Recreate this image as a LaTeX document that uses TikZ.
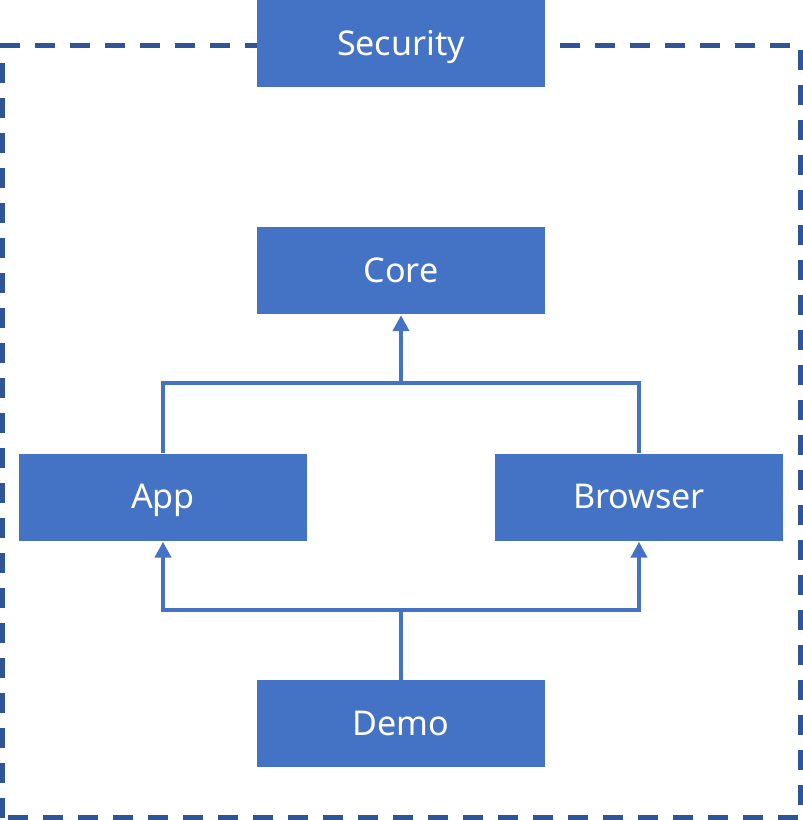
\documentclass[tikz,border=0pt]{standalone}
\usepackage{fontspec}
\setmainfont{Noto Sans}
\usetikzlibrary{arrows.meta}
\definecolor{boxblue}{HTML}{4472C4}
\definecolor{frameblue}{HTML}{2F5597}
\begin{document}
\begin{tikzpicture}[
    module/.style={fill=boxblue, text=white, minimum width=2.88cm, minimum height=0.87cm,
        inner sep=0pt, text height=1.55ex, text depth=0.35ex,
        font=\fontsize{9.7}{11}\selectfont},
    link/.style={draw=boxblue, line width=0.04cm},
    uses/.style={link, -{Triangle[width=0.16cm, length=0.16cm]}}
    ]

        \useasboundingbox (0,0) rectangle (8.03,8.20);

        % Draw the dashed frame
        \draw[frameblue, line width=0.05cm, dash pattern=on 0.2cm off 0.15cm]
            (0.025,0.025) rectangle (8.005,7.745);

        % Draw the modules
        \node[module] (security) at (4.01,7.76) {Security};
        \node[module] (core) at (4.01,5.49) {Core};
        \node[module] (app) at (1.63,3.225) {App};
        \node[module] (browser) at (6.39,3.225) {Browser};
        \node[module] (demo) at (4.01,0.96) {Demo};

        % Junctions of the connectors
        \coordinate (top) at (4.01,4.37);
        \coordinate (bottom) at (4.01,2.10);

        % App and Browser depend on Core
        \draw[link] (app.north) |- (top) -| (browser.north);
        \draw[uses] (top) -- (core.south);

        % Demo depends on App and Browser
        \draw[link] (demo.north) -- (bottom);
        \draw[uses] (bottom) -| (app.south);
        \draw[uses] (bottom) -| (browser.south);
    \end{tikzpicture}
\end{document}
